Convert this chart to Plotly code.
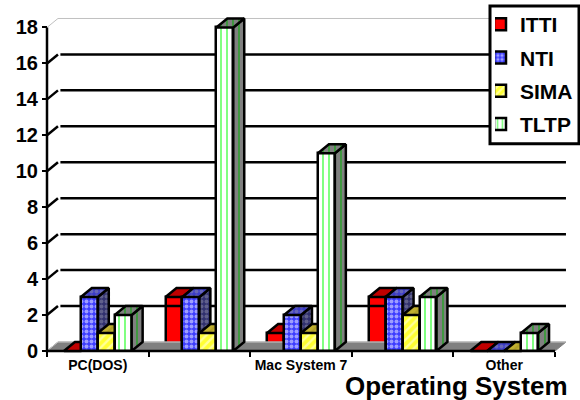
import plotly.graph_objects as go

# Counts per operating system for each programme
categories = ["PC(DOS)", "", "Mac System 7", "", "Other"]
itti = [0, 3, 1, 3, 0]
nti = [3, 3, 2, 3, 0]
sima = [1, 1, 1, 2, 0]
tltp = [2, 18, 11, 3, 1]
y_ticks = [0, 2, 4, 6, 8, 10, 12, 14, 16, 18]
series_names = ["ITTI", "NTI", "SIMA", "TLTP"]
series_values = [itti, nti, sima, tltp]

# Look of each series: front fill, pattern, and the shaded faces
front_bg = ["#ff0000", "#3c3cff", "#ffff33", "#ffffff"]
pattern_fg = ["#ff0000", "#ffffff", "#ffffff", "#00ff00"]
pattern_shape = ["", ".", "/", "|"]
pattern_size = [6, 5, 6, 6]
pattern_solid = [0.3, 0.5, 0.4, 0.33]
top_bg = ["#c00000", "#3c3cc8", "#c0b030", "#808080"]
side_bg = ["#a00000", "#30306e", "#a09020", "#808080"]
shade_fg = ["#a00000", "#9090a8", "#a09020", "#00b000"]

# Oblique depth of the pseudo-3D projection, in axis units
DX = 0.108
DY = 0.5
BAR_W = 1 / 6
LEFT = -0.5
RIGHT = 4.5
EDGE = 2.5

# Pixel frame: the category band and unit height, plus the plot rectangle
# that leaves room around the axes for the depth faces
WIDTH, HEIGHT = 580, 400
CAT_PX = 101.6
UNIT_PX = 18
AXIS_X = 47
AXIS_Y = 351.5
PLOT_L, PLOT_R, PLOT_T, PLOT_B = 44, 568, 14, 354.5
M_LEFT, M_TOP, M_BOTTOM = PLOT_L, 0, HEIGHT - PLOT_B
AREA_W = WIDTH - M_LEFT
AREA_H = HEIGHT - M_TOP - M_BOTTOM


def paper_x(px):
    return (px - M_LEFT) / AREA_W


def paper_y(py):
    return (HEIGHT - M_BOTTOM - py) / AREA_H


x_range = [LEFT + (PLOT_L - AXIS_X) / CAT_PX, LEFT + (PLOT_R - AXIS_X) / CAT_PX]
y_range = [(AXIS_Y - PLOT_B) / UNIT_PX, (AXIS_Y - PLOT_T) / UNIT_PX]
y_domain = [0, (PLOT_B - PLOT_T) / AREA_H]

fig = go.Figure()
xs = list(range(len(categories)))

# Floor
fig.add_trace(go.Scatter(
    x=[LEFT, LEFT + DX, RIGHT + DX, RIGHT], y=[0, DY, DY, 0], mode="lines",
    fill="toself", fillcolor="#808080", line=dict(color="#808080", width=1),
    showlegend=False, hoverinfo="skip"))
fig.add_trace(go.Scatter(
    x=[LEFT, LEFT + DX, RIGHT + DX], y=[0, DY, DY], mode="lines",
    line=dict(color="#c8c8c8", width=1), showlegend=False, hoverinfo="skip"))

# Back-wall grid lines with the short slanted connectors from the axis
for v in y_ticks[1:]:
    top = v == y_ticks[-1]
    colour = "#c0c0c0" if top else "#000000"
    width = 1 if top else EDGE
    gap = 0 if top else 0.024
    fig.add_trace(go.Scatter(
        x=[LEFT + DX + gap, RIGHT + DX], y=[v + DY, v + DY], mode="lines",
        line=dict(color=colour, width=width), showlegend=False, hoverinfo="skip"))
    fig.add_trace(go.Scatter(
        x=[LEFT, LEFT + DX], y=[v, v + DY], mode="lines",
        line=dict(color=colour, width=width), showlegend=False, hoverinfo="skip"))

# Axis lines, stopping at the front edge of the floor and the top tick
fig.add_trace(go.Scatter(
    x=[LEFT, LEFT, RIGHT], y=[y_ticks[-1], 0, 0], mode="lines",
    line=dict(color="#000000", width=EDGE), showlegend=False, hoverinfo="skip"))

# Each series sits on its own overlaid y axis so later series paint over
# the depth faces of the earlier ones
for s, (name, vals) in enumerate(zip(series_names, series_values)):
    yref = "y" if s == 0 else f"y{s + 1}"
    offset = (s - 1.5) * BAR_W
    for cat, v in zip(xs, vals):
        x0 = cat + offset - BAR_W / 2
        x1 = cat + offset + BAR_W / 2
        face_pattern = dict(shape=pattern_shape[s], fgcolor=shade_fg[s],
                            size=pattern_size[s], solidity=pattern_solid[s])
        fig.add_trace(go.Scatter(
            x=[x1, x1 + DX, x1 + DX, x1, x1], y=[0, DY, v + DY, v, 0],
            yaxis=yref, mode="lines", fill="toself", fillcolor=side_bg[s],
            fillpattern=dict(face_pattern, bgcolor=side_bg[s]),
            line=dict(color="#000000", width=EDGE),
            showlegend=False, hoverinfo="skip"))
        fig.add_trace(go.Scatter(
            x=[x0, x0 + DX, x1 + DX, x1, x0], y=[v, v + DY, v + DY, v, v],
            yaxis=yref, mode="lines", fill="toself", fillcolor=top_bg[s],
            fillpattern=dict(face_pattern, bgcolor=top_bg[s]),
            line=dict(color="#000000", width=EDGE),
            showlegend=False, hoverinfo="skip"))
    fig.add_trace(go.Bar(
        x=[c + offset for c in xs], y=vals, width=BAR_W, name=name,
        yaxis=yref, legendgroup=name,
        marker=dict(color=front_bg[s], line=dict(color="#000000", width=EDGE),
                    pattern=dict(shape=pattern_shape[s], fgcolor=pattern_fg[s],
                                 bgcolor=front_bg[s], size=pattern_size[s],
                                 solidity=pattern_solid[s]))))

# Title of the category axis, set flush right under the plot
fig.add_annotation(text="<b>Operating System</b>", xref="paper", yref="paper",
                   x=paper_x(570), y=paper_y(370), xanchor="right", yanchor="top",
                   showarrow=False,
                   font=dict(family="Liberation Sans", size=26, color="#000000"))

# Legend frame
fig.add_shape(type="rect", xref="paper", yref="paper", layer="above",
              x0=paper_x(490), x1=paper_x(579), y0=paper_y(144), y1=paper_y(6),
              fillcolor="#ffffff", line=dict(color="#000000", width=3))

fig.update_layout(
    width=WIDTH, height=HEIGHT, autosize=False,
    margin=dict(l=M_LEFT, r=0, t=M_TOP, b=M_BOTTOM, pad=0),
    paper_bgcolor="#ffffff", plot_bgcolor="rgba(0,0,0,0)",
    barmode="overlay", bargap=0,
    font=dict(family="Liberation Sans", color="#000000"),
    legend=dict(x=paper_x(495), y=paper_y(4), xanchor="left", yanchor="top",
                bgcolor="rgba(0,0,0,0)", borderwidth=0, indentation=-15,
                font=dict(size=21, family="Liberation Sans", weight="bold"),
                tracegroupgap=3, traceorder="grouped", itemwidth=30),
    xaxis=dict(domain=[0, (PLOT_R - PLOT_L) / AREA_W], range=x_range,
               anchor="free", position=paper_y(AXIS_Y), tickmode="array",
               tickvals=xs,
               ticktext=[f"<b>{c}</b>" if c else "" for c in categories],
               ticks="", tickfont=dict(size=14, family="Liberation Sans"),
               showgrid=False, zeroline=False, showline=False,
               ticklabelstandoff=4,
               minor=dict(tickmode="array",
                          tickvals=[LEFT + i for i in range(len(categories) + 1)],
                          ticks="outside", ticklen=5, tickwidth=2,
                          tickcolor="#000000", showgrid=False)),
    yaxis=dict(domain=y_domain, range=y_range, anchor="free",
               position=paper_x(AXIS_X), tickmode="array", tickvals=y_ticks,
               ticks="outside", ticklen=5, tickwidth=2, tickcolor="#000000",
               tickfont=dict(size=20, family="Liberation Sans", weight="bold"),
               showgrid=False, zeroline=False, showline=False),
    yaxis2=dict(overlaying="y", range=y_range, visible=False),
    yaxis3=dict(overlaying="y", range=y_range, visible=False),
    yaxis4=dict(overlaying="y", range=y_range, visible=False),
)

fig.write_html("out.html")
